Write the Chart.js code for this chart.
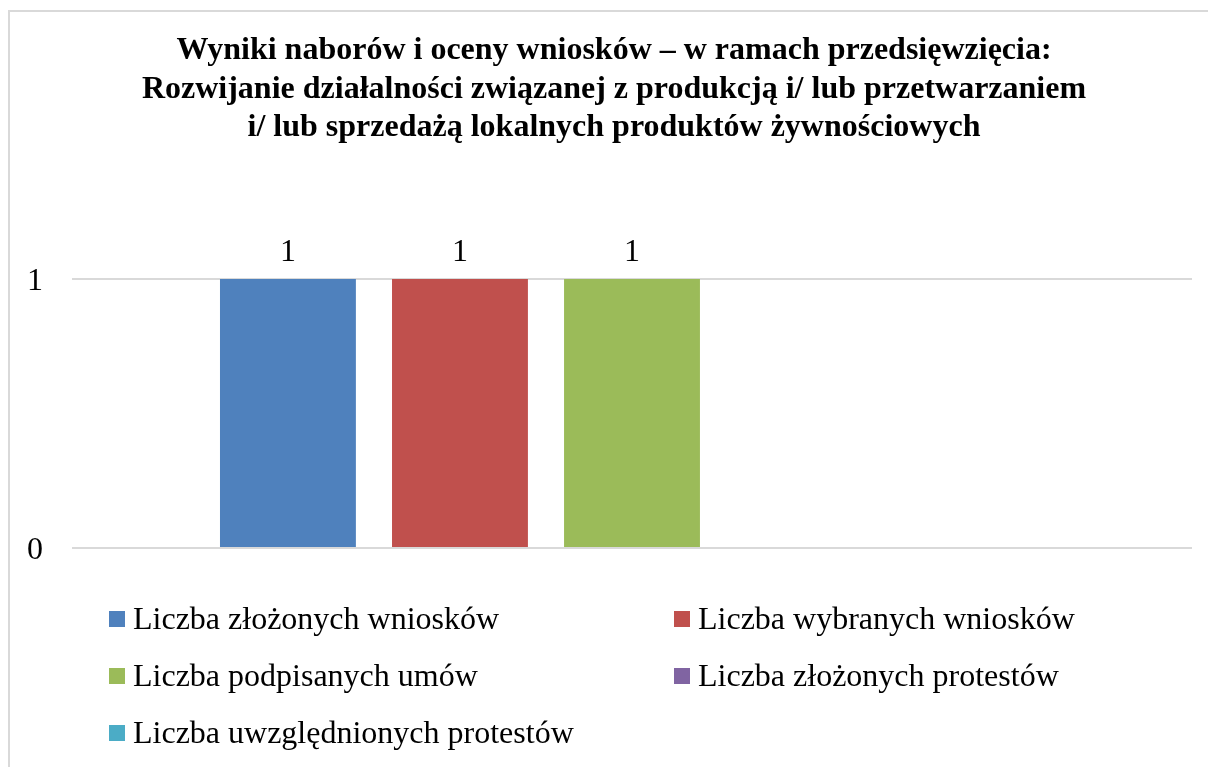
<!DOCTYPE html>
<html>
<head>
<meta charset="utf-8">
<script src="https://cdn.jsdelivr.net/npm/chart.js@4.4.1/dist/chart.umd.min.js"></script>
<style>
  html, body { margin: 0; padding: 0; background: #fff; overflow: hidden; }
  #wrap { position: relative; width: 1208px; height: 767px; }
  #frame { position: absolute; left: 8px; top: 10px; width: 1400px; height: 1000px; border: 2px solid #d9d9d9; box-sizing: border-box; }
  canvas { position: absolute; left: 0; top: 0; }
</style>
</head>
<body>
<div id="wrap">
  <div id="frame"></div>
  <canvas id="c" width="1208" height="767"></canvas>
</div>
<script>
const titleLines = [
  "Wyniki naborów i oceny wniosków – w ramach przedsięwzięcia:",
  "Rozwijanie działalności związanej z produkcją i/ lub przetwarzaniem",
  "i/ lub sprzedażą lokalnych produktów żywnościowych"
];
const categories = [""];
const seriesNames = [
  "Liczba złożonych wniosków",
  "Liczba wybranych wniosków",
  "Liczba podpisanych umów",
  "Liczba złożonych protestów",
  "Liczba uwzględnionych protestów"
];
const seriesValues = [1, 1, 1, 0, 0];
const seriesColors = ["#4F81BD", "#C0504D", "#9BBB59", "#8064A2", "#4BACC6"];
const yTicks = [0, 1];

const FONT = '"Liberation Serif", "Times New Roman", serif';

const titlePlugin = {
  id: 'titlePlugin',
  afterDraw(chart) {
    const ctx = chart.ctx;
    ctx.save();
    ctx.font = 'bold 32px ' + FONT;
    ctx.fillStyle = '#000';
    ctx.textAlign = 'center';
    ctx.textBaseline = 'alphabetic';
    titleLines.forEach((t, i) => ctx.fillText(t, 614, 59 + i * 38.5));
    ctx.restore();
  }
};

const dataLabels = {
  id: 'dataLabels',
  afterDatasetsDraw(chart) {
    const ctx = chart.ctx;
    ctx.save();
    ctx.font = '32px ' + FONT;
    ctx.fillStyle = '#000';
    ctx.textAlign = 'center';
    ctx.textBaseline = 'alphabetic';
    chart.data.datasets.forEach((ds, i) => {
      const meta = chart.getDatasetMeta(i);
      meta.data.forEach((bar, j) => {
        const v = ds.data[j];
        if (v > 0) ctx.fillText(String(v), bar.x, bar.y - 18);
      });
    });
    ctx.restore();
  }
};

const gridLegend = {
  id: 'gridLegend',
  afterDraw(chart) {
    const ctx = chart.ctx;
    const colX = [109, 674];
    const rowY = [629, 686, 743];
    ctx.save();
    ctx.font = '32px ' + FONT;
    ctx.textBaseline = 'alphabetic';
    ctx.textAlign = 'left';
    chart.data.datasets.forEach((ds, i) => {
      const x = colX[i % 2];
      const y = rowY[Math.floor(i / 2)];
      ctx.fillStyle = ds.backgroundColor;
      ctx.fillRect(x, y - 18, 16, 16);
      ctx.fillStyle = '#000';
      ctx.fillText(ds.label, x + 24, y);
    });
    ctx.restore();
  }
};

new Chart(document.getElementById('c'), {
  type: 'bar',
  data: {
    labels: categories,
    datasets: seriesNames.map((n, i) => ({
      label: n,
      data: [seriesValues[i]],
      backgroundColor: seriesColors[i],
      borderWidth: 0,
      barPercentage: 0.79,
      categoryPercentage: 0.768
    }))
  },
  options: {
    responsive: false,
    animation: false,
    layout: { padding: { left: 0, right: 16, top: 279, bottom: 211 } },
    plugins: {
      legend: { display: false },
      tooltip: { enabled: false },
      title: { display: false }
    },
    scales: {
      x: {
        grid: { display: false },
        border: { display: false },
        ticks: { display: false }
      },
      y: {
        min: 0,
        max: 1,
        afterFit(scale) { scale.width = 72; },
        afterBuildTicks(scale) { scale.ticks = yTicks.map(v => ({ value: v })); },
        grid: { color: '#d9d9d9', lineWidth: 2, tickLength: 0, drawTicks: false },
        border: { display: false },
        ticks: {
          color: '#000',
          font: { family: FONT, size: 32 },
          padding: 29,
          labelOffset: 3
        }
      }
    }
  },
  plugins: [dataLabels, gridLegend, titlePlugin]
});
</script>
</body>
</html>
